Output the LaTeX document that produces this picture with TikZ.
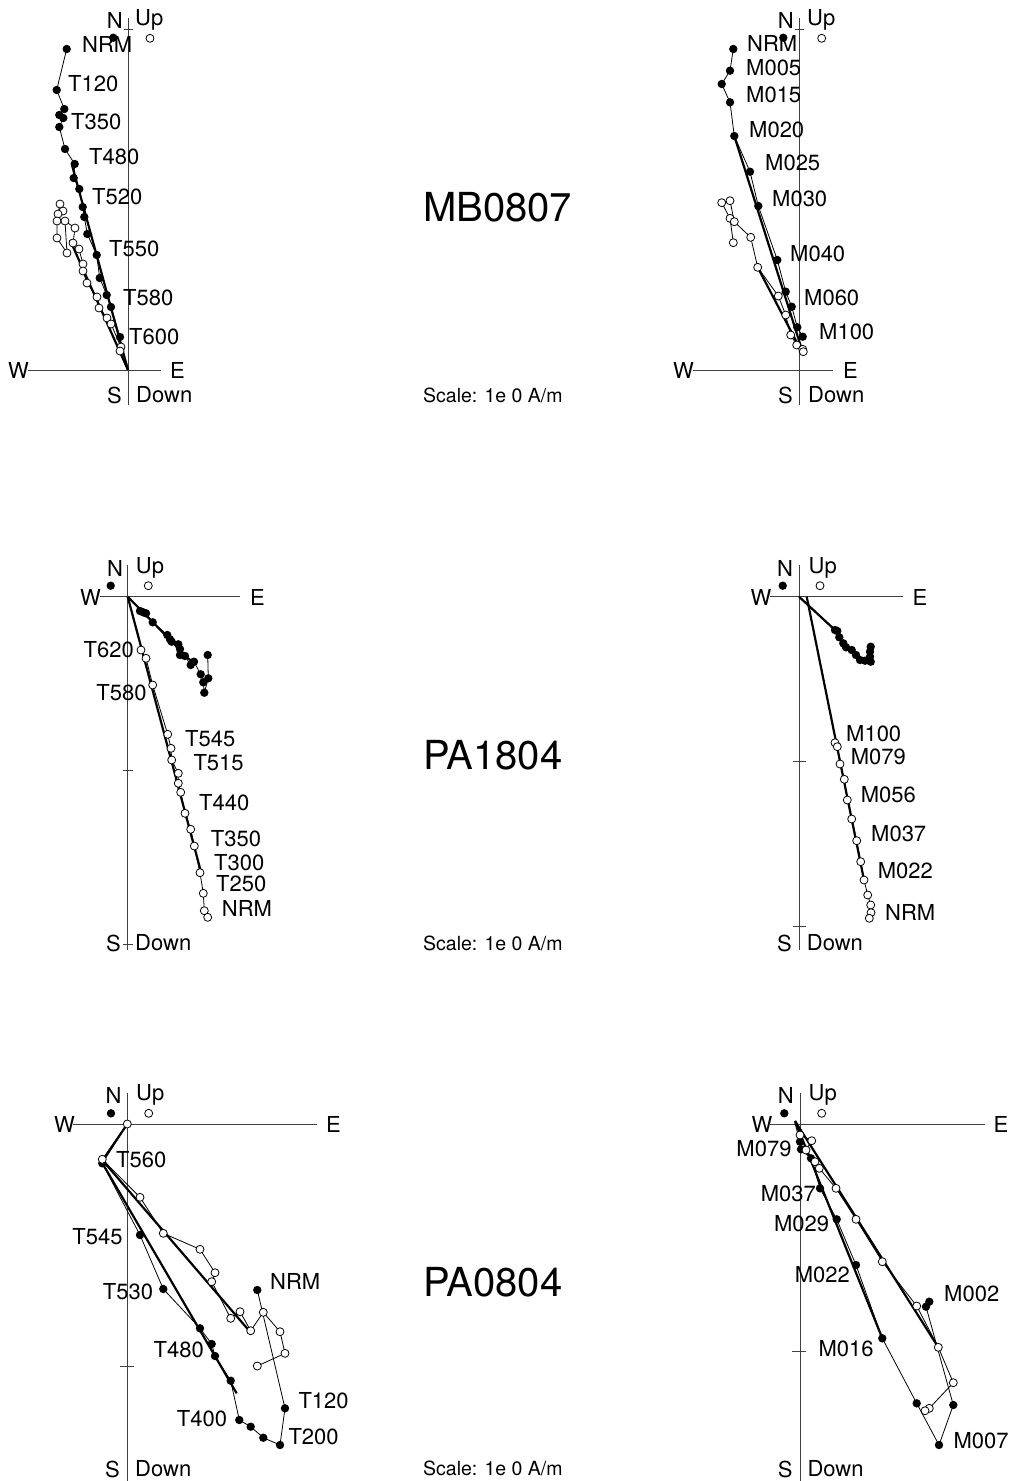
\documentclass[tikz,border=0pt]{standalone}
\usepackage{fontspec}
\setmainfont{TeX Gyre Heros}
\newcommand\labfont{\fontsize{22}{24}\selectfont}
\newcommand\titfont{\fontsize{40}{44}\selectfont}
\newcommand\scalefont{\fontsize{19.5}{21}\selectfont}
\tikzset{
  axisline/.style={black!75, line width=1pt},
  dline/.style={black, line width=0.8pt},
  fitline/.style={black, line width=2.2pt},
  lab/.style={font=\labfont, inner sep=0pt},
  tit/.style={font=\titfont, inner sep=0pt, anchor=west},
  scl/.style={font=\scalefont, inner sep=0pt, anchor=west},
}
\newcommand\fdots[1]{\foreach \xx/\yy in {#1} {\fill[black] (\xx,\yy) circle (4.2pt);}}
\newcommand\odots[1]{\foreach \xx/\yy in {#1} {\filldraw[fill=white, draw=black, line width=0.8pt] (\xx,\yy) circle (4pt);}}
\begin{document}
\begin{tikzpicture}[x=1pt,y=-1pt]
\useasboundingbox (0,0) rectangle (1010,1481);
\fill[white] (0,0) rectangle (1010,1481);

% ================= Plot 1 (MB0807 thermal) =================
\draw[axisline] (128,18) -- (128,405);
\draw[axisline] (28,370) -- (161,370);
\draw[axisline] (124,29) -- (133,29);
\node[lab, anchor=east] at (123,20) {N};
\node[lab, anchor=west] at (135,20) {Up};
\node[lab, anchor=east] at (29,370) {W};
\node[lab, anchor=west] at (170,370) {E};
\node[lab, anchor=east] at (122,395) {S};
\node[lab, anchor=west] at (136,395) {Down};
\draw[dline] plot coordinates {(63,211) (60,204) (58,214) (57,221) (57,238) (67,253) (65,221) (75,228) (73,243) (79,249) (83,264) (83,271) (87,283) (97,297) (99,308) (107,318) (111,324) (121,347) (120,351)};
\draw[dline] plot coordinates {(66.7,49) (56.7,90) (64.3,109) (59.3,115) (63.3,118) (59.3,127) (65,149) (74.7,164) (73.7,178) (79.3,189) (82.7,207) (84.3,217) (87.3,234) (96.7,255) (99.7,278) (106.7,295) (111,307) (120,337)};
\draw[fitline] (72,165) -- (128,370);
\draw[fitline] (70,240) -- (128,370);
\fdots{113.3/37.7, 66.7/49, 56.7/90, 64.3/109, 59.3/115, 63.3/118, 59.3/127, 65/149, 74.7/164, 73.7/178, 79.3/189, 82.7/207, 84.3/217, 87.3/234, 96.7/255, 99.7/278, 106.7/295, 111/307, 120/337}
\odots{150/38.3, 63/211, 60/204, 58/214, 57/221, 57/238, 67/253, 65/221, 75/228, 73/243, 79/249, 83/264, 83/271, 87/283, 97/297, 99/308, 107/318, 111/324, 121/347, 120/351}
\node[lab, anchor=west] at (82,44) {NRM};
\node[lab, anchor=west] at (68,84) {T120};
\node[lab, anchor=west] at (71,122) {T350};
\node[lab, anchor=west] at (89,157) {T480};
\node[lab, anchor=west] at (92,197) {T520};
\node[lab, anchor=west] at (109,249) {T550};
\node[lab, anchor=west] at (123,298) {T580};
\node[lab, anchor=west] at (129,337) {T600};

% ================= Plot 2 (MB0807 AF) =================
\draw[axisline] (799.3,18) -- (799.3,405);
\draw[axisline] (693,370) -- (833,370);
\draw[axisline] (795,29) -- (804,29);
\node[lab, anchor=east] at (794,20) {N};
\node[lab, anchor=west] at (807,20) {Up};
\node[lab, anchor=east] at (694,370) {W};
\node[lab, anchor=west] at (843,370) {E};
\node[lab, anchor=east] at (793,395) {S};
\node[lab, anchor=west] at (808,395) {Down};
\draw[dline] plot coordinates {(733.3,242.7) (730,218.3) (721.7,202.7) (730,200.7) (734.3,221.7) (750.7,237.3) (757.7,267.3) (778.3,296) (785.7,315) (790.7,335) (796.7,345) (802.7,349.3) (803.3,351.7)};
\draw[dline] plot coordinates {(733.3,49) (730,70.7) (721.7,84) (730,102.3) (734.3,136) (750,171.7) (758.3,206) (777.3,260) (785.7,291.7) (791.7,306.7) (797.3,327.3) (802.7,336.7)};
\draw[fitline] (734.3,136) -- (802,350);
\draw[fitline] (757.7,267.3) -- (801.7,351.7);
\fdots{783.3/37.7, 733.3/49, 730/70.7, 721.7/84, 730/102.3, 734.3/136, 750/171.7, 758.3/206, 777.3/260, 785.7/291.7, 791.7/306.7, 797.3/327.3, 802.7/336.7}
\odots{821.7/38.3, 733.3/242.7, 730/218.3, 721.7/202.7, 730/200.7, 734.3/221.7, 750.7/237.3, 757.7/267.3, 778.3/296, 785.7/315, 790.7/335, 796.7/345, 802.7/349.3, 803.3/351.7}
\node[lab, anchor=west] at (747,43) {NRM};
\node[lab, anchor=west] at (746,68) {M005};
\node[lab, anchor=west] at (746,95) {M015};
\node[lab, anchor=west] at (749,130) {M020};
\node[lab, anchor=west] at (765,163) {M025};
\node[lab, anchor=west] at (772,199) {M030};
\node[lab, anchor=west] at (790,254) {M040};
\node[lab, anchor=west] at (804,298) {M060};
\node[lab, anchor=west] at (819,332) {M100};

% ================= Plot 3 (PA1804 thermal) =================
\draw[axisline] (127.7,565) -- (127.7,950);
\draw[axisline] (100,596.7) -- (240,596.7);
\draw[axisline] (123,770.7) -- (133,770.7);
\draw[axisline] (123,944) -- (133,944);
\node[lab, anchor=east] at (123.3,568) {N};
\node[lab, anchor=west] at (135.7,568) {Up};
\node[lab, anchor=east] at (101,597) {W};
\node[lab, anchor=west] at (250,597) {E};
\node[lab, anchor=east] at (121,943) {S};
\node[lab, anchor=west] at (135,943) {Down};
\draw[dline] plot coordinates {(207.7,917.3) (204.3,910.7) (203.3,893.3) (200,872.7) (194.3,846) (190.7,829.3) (185,813.3) (180.7,792.3) (178.3,783.3) (178.3,773.3) (171.7,760) (171,748.3) (167.7,734.3) (152.7,685) (146,658.3) (141,650)};
\draw[dline] plot coordinates {(207.7,655) (208.3,678.3) (204.3,692.7) (203.3,682.3) (200.7,674.3) (194,661.7) (190.7,665) (185,656) (180,655) (180,649) (178.3,644.3) (171.7,641.7) (170,639.3) (167.3,635) (152.7,622.3) (146,613.3) (143.3,612.3) (140,611)};
\draw[fitline] (127.7,596.7) -- (195,665);
\draw[fitline] (127.7,596.7) -- (201,872);
\fdots{110.7/585.7, 140/611, 143.3/612.3, 146/613.3, 152.7/622.3, 167.3/635, 170/639.3, 171.7/641.7, 178.3/644.3, 180/649, 180/655, 185/656, 190.7/665, 194/661.7, 200.7/674.3, 207.7/655, 208.3/678.3, 203.3/682.3, 204.3/692.7}
\odots{148.3/585.7, 141/650, 146/658.3, 152.7/685, 167.7/734.3, 171/748.3, 171.7/760, 178.3/773.3, 178.3/783.3, 180.7/792.3, 185/813.3, 190.7/829.3, 194.3/846, 200/872.7, 203.3/893.3, 204.3/910.7, 207.7/917.3}
\node[lab, anchor=east] at (134,650) {T620};
\node[lab, anchor=east] at (146.7,693) {T580};
\node[lab, anchor=west] at (185,739) {T545};
\node[lab, anchor=west] at (193.3,763) {T515};
\node[lab, anchor=west] at (199,803) {T440};
\node[lab, anchor=west] at (210.7,839) {T350};
\node[lab, anchor=west] at (214,862.7) {T300};
\node[lab, anchor=west] at (216,884) {T250};
\node[lab, anchor=west] at (221.7,908) {NRM};

% ================= Plot 4 (PA1804 AF) =================
\draw[axisline] (799,565) -- (799,950);
\draw[axisline] (770,596.7) -- (903,596.7);
\draw[axisline] (793,761) -- (806,761);
\draw[axisline] (793,926) -- (806,926);
\node[lab, anchor=east] at (793.3,568) {N};
\node[lab, anchor=west] at (808.3,568) {Up};
\node[lab, anchor=east] at (771.7,597) {W};
\node[lab, anchor=west] at (912.3,597) {E};
\node[lab, anchor=east] at (792,943) {S};
\node[lab, anchor=west] at (806.7,943) {Down};
\draw[dline] plot coordinates {(869.3,918.3) (871,912.7) (870.7,905) (867.7,895) (864,880) (860.7,861.7) (856.7,840.7) (851.7,819) (847.3,800) (844.3,779.3) (840,764) (837.3,746.7) (835,742.7)};
\draw[dline] plot coordinates {(870.7,646.7) (870,651.7) (870,656.7) (870.7,661.7) (865,660.7) (860,660) (856,655) (851.7,650) (846,647.3) (843.3,643.3) (839.3,637.3) (837.3,631) (835,630)};
\draw[fitline] (799,596.7) -- (835,630);
\draw[fitline] (806.7,596.7) -- (864,880);
\fdots{782.7/585.7, 835/630, 837.3/631, 839.3/637.3, 843.3/643.3, 846/647.3, 851.7/650, 856/655, 860/660, 865/660.7, 870.7/661.7, 870/656.7, 870/651.7, 870.7/646.7}
\odots{820/585.7, 835/742.7, 837.3/746.7, 840/764, 844.3/779.3, 847.3/800, 851.7/819, 856.7/840.7, 860.7/861.7, 864/880, 867.7/895, 870.7/905, 871/912.7, 869.3/918.3}
\node[lab, anchor=west] at (846,733.3) {M100};
\node[lab, anchor=west] at (850.7,756.7) {M079};
\node[lab, anchor=west] at (860.7,794.3) {M056};
\node[lab, anchor=west] at (871,833.3) {M037};
\node[lab, anchor=west] at (877.7,871) {M022};
\node[lab, anchor=west] at (885,912.7) {NRM};

% ================= Plot 5 (PA0804 thermal) =================
\draw[axisline] (127.3,1093) -- (127.3,1481);
\draw[axisline] (73,1124) -- (316.7,1124);
\draw[axisline] (120,1366) -- (134,1366);
\node[lab, anchor=east] at (121.7,1095) {N};
\node[lab, anchor=west] at (136,1095) {Up};
\node[lab, anchor=east] at (75,1124) {W};
\node[lab, anchor=west] at (326,1124) {E};
\node[lab, anchor=east] at (120,1469) {S};
\node[lab, anchor=west] at (135,1469) {Down};
\draw[dline] plot coordinates {(257.3,1366) (285,1353.3) (280,1331.7) (263.3,1312.3) (250.7,1330.7) (240,1311.7) (230.7,1318.3) (211.7,1281.7) (215,1272.7) (200,1249.3) (163.3,1233.3) (140,1197.3) (102.3,1159.3) (127.3,1124)};
\draw[dline] plot coordinates {(257.3,1290) (285,1408.3) (280,1445) (263.3,1437.7) (250.7,1426.7) (239.3,1420) (230.7,1380.7) (215,1356) (211.7,1344) (200,1328.3) (163.3,1289) (140,1235) (102.3,1163.3) (127.3,1124)};
\draw[fitline] (127.3,1124) -- (102.3,1161);
\draw[fitline] (102.3,1163) -- (236.7,1393.3);
\draw[fitline] (102.3,1160) -- (250,1331.7);
\fdots{111/1113.3, 102.3/1163.3, 140/1235, 163.3/1289, 200/1328.3, 211.7/1344, 215/1356, 230.7/1380.7, 239.3/1420, 250.7/1426.7, 263.3/1437.7, 280/1445, 285/1408.3, 257.3/1290}
\odots{148.7/1113.3, 127.3/1124, 102.3/1159.3, 140/1197.3, 163.3/1233.3, 200/1249.3, 215/1272.7, 211.7/1281.7, 240/1311.7, 230.7/1318.3, 250.7/1330.7, 263.3/1312.3, 280/1331.7, 285/1353.3, 257.3/1366}
\node[lab, anchor=west] at (116,1160) {T560};
\node[lab, anchor=east] at (122.7,1236.7) {T545};
\node[lab, anchor=east] at (153.3,1291.7) {T530};
\node[lab, anchor=west] at (270,1281.7) {NRM};
\node[lab, anchor=east] at (204,1350) {T480};
\node[lab, anchor=east] at (227.3,1418.3) {T400};
\node[lab, anchor=west] at (298.3,1400.7) {T120};
\node[lab, anchor=west] at (288.3,1436.7) {T200};

% ================= Plot 6 (PA0804 AF) =================
\draw[axisline] (800,1093) -- (800,1481);
\draw[axisline] (770,1124) -- (985,1124);
\draw[axisline] (792,1351) -- (806,1351);
\node[lab, anchor=east] at (794,1095) {N};
\node[lab, anchor=west] at (808.3,1095) {Up};
\node[lab, anchor=east] at (772.7,1124) {W};
\node[lab, anchor=west] at (993.3,1124) {E};
\node[lab, anchor=east] at (792.7,1469) {S};
\node[lab, anchor=west] at (807.3,1469) {Down};
\draw[dline] plot coordinates {(925,1410.7) (929.3,1408.3) (953.3,1382.7) (938.3,1347.3) (916.7,1306) (882.3,1261.7) (856,1219.3) (836,1188.3) (819.3,1168.3) (815,1161.7) (806,1150) (811.7,1140.7) (800,1135) (795,1123)};
\draw[dline] plot coordinates {(929.3,1301.7) (926,1306.7) (953.3,1405) (939,1445) (916.7,1403.3) (882.3,1338.3) (856,1265) (836.7,1219.3) (820,1188.3) (811,1158.3) (801,1149.3) (800,1141.7) (795,1123)};
\draw[fitline] (795,1121) -- (882.3,1338.3);
\draw[fitline] (795,1121) -- (938.3,1347.3);
\fdots{784.3/1113.3, 800/1141.7, 801/1149.3, 811/1158.3, 820/1188.3, 836.7/1219.3, 856/1265, 882.3/1338.3, 916.7/1403.3, 939/1445, 953.3/1405, 929.3/1301.7, 926/1306.7}
\odots{821.7/1113.3, 800/1135, 811.7/1140.7, 806/1150, 815/1161.7, 819.3/1168.3, 836/1188.3, 856/1219.3, 882.3/1261.7, 916.7/1306, 938.3/1347.3, 953.3/1382.7, 929.3/1408.3, 925/1410.7}
\node[lab, anchor=east] at (791.7,1148.3) {M079};
\node[lab, anchor=east] at (816,1193.3) {M037};
\node[lab, anchor=east] at (829.3,1224) {M029};
\node[lab, anchor=east] at (850,1275) {M022};
\node[lab, anchor=west] at (944,1294) {M002};
\node[lab, anchor=west] at (818.3,1349) {M016};
\node[lab, anchor=west] at (953.3,1440.7) {M007};

% ================= Titles and scales =================
\node[tit] (t1) at (423,207) {MB0807};
\node[tit] (t2) at (423,755) {PA1804};
\node[tit] (t3) at (423,1282) {PA0804};
\node[scl] (s1) at (423,395) {Scale: 1e 0 A/m};
\node[scl] (s2) at (423,943) {Scale: 1e 0 A/m};
\node[scl] (s3) at (423,1468) {Scale: 1e 0 A/m};
\end{tikzpicture}
\end{document}
